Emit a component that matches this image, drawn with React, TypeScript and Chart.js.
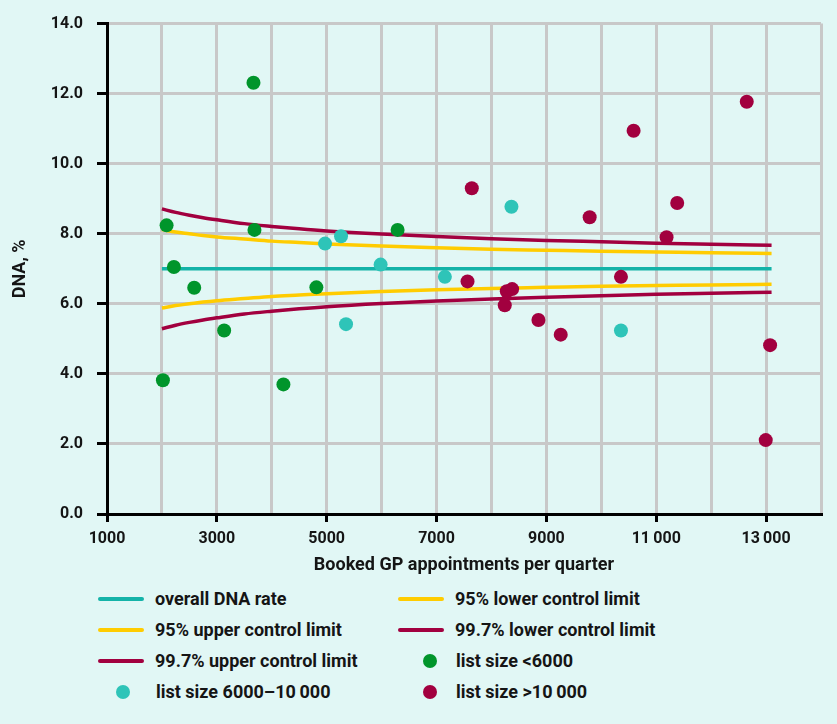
import React, { useEffect, useRef } from 'react';
import { Chart, registerables } from 'chart.js';

Chart.register(...registerables);

// Scatter data (list size groups)
const greenX = [2018, 2085, 2218, 2588, 3133, 3667, 3685, 4212, 4812, 6291];
const greenY = [3.82, 8.24, 7.05, 6.46, 5.24, 12.31, 8.11, 3.7, 6.47, 8.11];
const tealX = [4970, 5261, 5352, 5982, 7152, 8364, 10358];
const tealY = [7.72, 7.93, 5.42, 7.12, 6.77, 8.77, 5.24];
const maroonX = [7564, 7642, 8279, 8376, 8242, 8855, 9261, 9788, 10358, 10588, 11188, 11382, 12648, 13073, 12994];
const maroonY = [6.64, 9.3, 6.36, 6.42, 5.96, 5.54, 5.12, 8.47, 6.77, 10.94, 7.9, 8.88, 11.77, 4.82, 2.11];

// Control limit lines
const limitX = [2000, 2250, 2500, 2750, 3000, 3500, 4000, 4500, 5000, 6000, 7000, 8000, 9000, 10000, 11000, 12000, 13100];
const overallRate = [7.0, 7.0, 7.0, 7.0, 7.0, 7.0, 7.0, 7.0, 7.0, 7.0, 7.0, 7.0, 7.0, 7.0, 7.0, 7.0, 7.0];
const upper95 = [8.12, 8.05, 8.0, 7.95, 7.91, 7.85, 7.79, 7.75, 7.71, 7.65, 7.6, 7.56, 7.53, 7.5, 7.48, 7.46, 7.44];
const lower95 = [5.88, 5.95, 6.0, 6.05, 6.09, 6.15, 6.21, 6.25, 6.29, 6.35, 6.4, 6.44, 6.47, 6.5, 6.52, 6.54, 6.56];
const upper997 = [8.71, 8.61, 8.53, 8.46, 8.4, 8.29, 8.21, 8.14, 8.08, 7.99, 7.92, 7.86, 7.81, 7.77, 7.73, 7.7, 7.67];
const lower997 = [5.29, 5.39, 5.47, 5.54, 5.6, 5.71, 5.79, 5.86, 5.92, 6.01, 6.08, 6.14, 6.19, 6.23, 6.27, 6.3, 6.33];

const xTickLabels: Record<number, string> = {
  1000: '1000', 3000: '3000', 5000: '5000', 7000: '7000', 9000: '9000', 11000: '11\u2009000', 13000: '13\u2009000',
};

const BG = '#e1f7f5';
const GRID = '#c8c8c8';
const TEAL_LINE = '#14b3a8';
const YELLOW = '#ffcc00';
const MAROON = '#a2003f';
const GREEN = '#00952b';
const TEAL_DOT = '#2ec4b8';
const TEXT = '#151515';
const FONT = 'Roboto, "DejaVu Sans", sans-serif';

const zip = (xs: number[], ys: number[]) => xs.map((x, i) => ({ x, y: ys[i] }));

type LegendItem = { label: string; color: string; kind: 'line' | 'dot' };
const legendCol1: LegendItem[] = [
  { label: 'overall DNA rate', color: TEAL_LINE, kind: 'line' },
  { label: '95% upper control limit', color: YELLOW, kind: 'line' },
  { label: '99.7% upper control limit', color: MAROON, kind: 'line' },
  { label: 'list size 6000\u201310\u2009000', color: TEAL_DOT, kind: 'dot' },
];
const legendCol2: LegendItem[] = [
  { label: '95% lower control limit', color: YELLOW, kind: 'line' },
  { label: '99.7% lower control limit', color: MAROON, kind: 'line' },
  { label: 'list size <6000', color: GREEN, kind: 'dot' },
  { label: 'list size >10\u2009000', color: MAROON, kind: 'dot' },
];
const rowY = [599, 630, 661, 692];

function Legend() {
  const items: React.ReactNode[] = [];
  const cols = [
    { list: legendCol1, lineLeft: 98, dotCx: 123, textLeft: 155 },
    { list: legendCol2, lineLeft: 398, dotCx: 430, textLeft: 455 },
  ];
  cols.forEach((c, ci) => {
    c.list.forEach((it, ri) => {
      const cy = rowY[ri];
      if (it.kind === 'line') {
        items.push(
          <div key={`s${ci}${ri}`} style={{ position: 'absolute', left: c.lineLeft, top: cy - 2, width: 46, height: 4, borderRadius: 2, background: it.color }} />
        );
      } else {
        items.push(
          <div key={`s${ci}${ri}`} style={{ position: 'absolute', left: c.dotCx - 7, top: cy - 7, width: 14, height: 14, borderRadius: 7, background: it.color }} />
        );
      }
      items.push(
        <div key={`t${ci}${ri}`} style={{ position: 'absolute', left: it.kind === 'dot' ? c.textLeft + 1 : c.textLeft, top: cy - 12, height: 24, lineHeight: '24px', fontFamily: FONT, fontWeight: 700, fontSize: 18, color: TEXT, whiteSpace: 'nowrap' }}>
          {it.label}
        </div>
      );
    });
  });
  return <>{items}</>;
}

export default function App() {
  const canvasRef = useRef<HTMLCanvasElement | null>(null);

  useEffect(() => {
    const canvas = canvasRef.current;
    if (!canvas) return;
    const lineDs = (label: string, ys: number[], color: string) => ({
      type: 'scatter' as const,
      label,
      data: zip(limitX, ys),
      showLine: true,
      borderColor: color,
      backgroundColor: color,
      borderWidth: 3.5,
      pointRadius: 0,
      pointHoverRadius: 0,
      cubicInterpolationMode: 'monotone' as const,
      order: 2,
    });
    const dotDs = (label: string, xs: number[], ys: number[], color: string) => ({
      type: 'scatter' as const,
      label,
      data: zip(xs, ys),
      showLine: false,
      backgroundColor: color,
      borderColor: color,
      borderWidth: 0,
      pointRadius: 7,
      pointHoverRadius: 7,
      order: 1,
    });

    const chart = new Chart(canvas, {
      type: 'scatter',
      data: {
        datasets: [
          lineDs('overall DNA rate', overallRate, TEAL_LINE),
          lineDs('95% lower control limit', lower95, YELLOW),
          lineDs('95% upper control limit', upper95, YELLOW),
          lineDs('99.7% lower control limit', lower997, MAROON),
          lineDs('99.7% upper control limit', upper997, MAROON),
          dotDs('list size <6000', greenX, greenY, GREEN),
          dotDs('list size 6000–10 000', tealX, tealY, TEAL_DOT),
          dotDs('list size >10 000', maroonX, maroonY, MAROON),
        ] as any,
      },
      options: {
        responsive: false,
        animation: false,
        events: [],
        layout: { padding: { top: 21, right: 16, bottom: 0, left: 0 } },
        plugins: {
          legend: { display: false },
          tooltip: { enabled: false },
        },
        scales: {
          x: {
            type: 'linear',
            min: 1000,
            max: 14000,
            afterFit: (scale: any) => { scale.height = 62; },
            border: { display: true, color: '#000', width: 3 },
            grid: {
              color: GRID,
              lineWidth: 3,
              tickLength: 8,
              tickWidth: 3,
              tickColor: (ctx: any) => (ctx.tick && xTickLabels[ctx.tick.value] ? '#000' : 'rgba(0,0,0,0)'),
            },
            ticks: {
              stepSize: 1000,
              autoSkip: false,
              maxRotation: 0,
              padding: 7,
              color: TEXT,
              font: { family: FONT, size: 16, weight: 'bold' },
              callback: (v: any) => xTickLabels[Number(v)] ?? '',
            },
            title: {
              display: true,
              text: 'Booked GP appointments per quarter',
              color: TEXT,
              padding: { top: 0, bottom: 0 },
              font: { family: FONT, size: 18, weight: 'bold' },
            },
          },
          y: {
            type: 'linear',
            min: 0,
            max: 14,
            afterFit: (scale: any) => { scale.width = 107; },
            border: { display: true, color: '#000', width: 3 },
            grid: {
              color: GRID,
              lineWidth: 3,
              tickLength: 10,
              tickWidth: 3,
              tickColor: '#000',
            },
            ticks: {
              stepSize: 2,
              padding: 14,
              color: TEXT,
              font: { family: FONT, size: 16, weight: 'bold' },
              callback: (v: any) => Number(v).toFixed(1),
            },
            title: {
              display: true,
              text: 'DNA, %',
              color: TEXT,
              padding: { top: 10, bottom: 0 },
              font: { family: FONT, size: 18, weight: 'bold' },
            },
          },
        },
      } as any,
    });
    return () => chart.destroy();
  }, []);

  return (
    <div style={{ position: 'fixed', left: 0, top: 0, width: 837, height: 724, background: BG, overflow: 'hidden' }}>
      <canvas ref={canvasRef} width={837} height={576} style={{ position: 'absolute', left: 0, top: 0, width: 837, height: 576 }} />
      <Legend />
    </div>
  );
}
